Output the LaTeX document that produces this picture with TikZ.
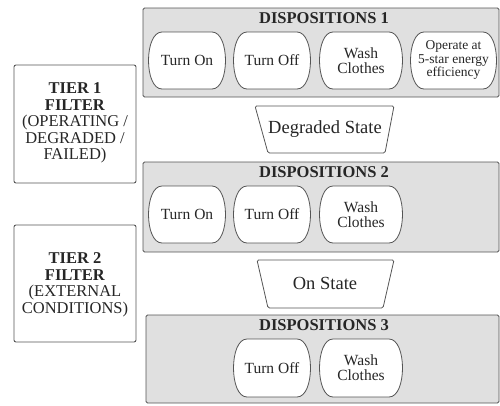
\documentclass[tikz,border=0pt]{standalone}
\usepackage{fontspec}
\setmainfont{Liberation Serif}
\usetikzlibrary{shapes.geometric}
\definecolor{panelfill}{HTML}{E0E0E0}
\definecolor{edge}{HTML}{555555}
\tikzset{
  panel/.style={draw=edge, fill=panelfill, line width=0.9pt, rounded corners=1.5pt},
  filterbox/.style={draw=edge, fill=white, line width=0.9pt, rounded corners=2pt},
  pill/.style={draw=edge, fill=white, line width=0.8pt},
  trap/.style={draw=edge, fill=white, line width=0.8pt, rounded corners=1.5pt},
  lbl/.style={font=\fontsize{15.5}{15}\selectfont, align=center, text=black!85},
  head/.style={font=\fontsize{16.5}{17}\selectfont\bfseries, text=black!85},
  tier/.style={font=\fontsize{16.5}{16.5}\selectfont, align=center, text=black!85},
}
% pill outline: \pillpath{x1}{y1}{x2}{y2}
\newcommand\pillpath[4]{%
  \draw[pill] (#1+15,#2) -- (#3-15,#2)
    .. controls (#3+3,#2) and (#3+3,#4) .. (#3-15,#4)
    -- (#1+15,#4)
    .. controls (#1-3,#4) and (#1-3,#2) .. (#1+15,#2) -- cycle;}
\begin{document}
\begin{tikzpicture}[x=1pt,y=-1pt]
\useasboundingbox (0,0) rectangle (500,405);
% panels
\draw[panel] (143,8) rectangle (499,97);
\draw[panel] (143,162) rectangle (499,252);
\draw[panel] (146,315) rectangle (499,403);
\node[head] (h1) at (324,18) {DISPOSITIONS 1};
\node[head] (h2) at (324,172) {DISPOSITIONS 2};
\node[head] (h3) at (324,325) {DISPOSITIONS 3};
% filter boxes
\draw[filterbox] (14,65) rectangle (136,183);
\node[tier] (t1) at (75,123) {\textbf{TIER 1}\\\textbf{FILTER}\\(OPERATING /\\DEGRADED /\\FAILED)};
\draw[filterbox] (14,225) rectangle (136,342);
\node[tier] (t2) at (75,285) {\textbf{TIER 2}\\\textbf{FILTER}\\(EXTERNAL\\CONDITIONS)};
% dispositions 1
\pillpath{147}{32}{227}{89}
\node[lbl] (a1) at (187,60.5) {Turn On};
\pillpath{232}{32}{312}{89}
\node[lbl] (a2) at (272,60.5) {Turn Off};
\pillpath{318}{32}{404}{89}
\node[lbl] (a3) at (361,60.5) {Wash\\Clothes};
\pillpath{409}{32}{498}{89}
\node[lbl, font=\fontsize{13.5}{13.5}\selectfont] (a4) at (453.5,60) {Operate at\\5-star energy\\efficiency};
% degraded state
\draw[trap] (255,106) -- (394,106) -- (385,153) -- (268,153) -- cycle;
\node[lbl, font=\fontsize{18.5}{19}\selectfont] (s1) at (325,129.5) {Degraded State};
% dispositions 2
\pillpath{147}{186}{227}{243}
\node[lbl] (b1) at (187,214.5) {Turn On};
\pillpath{232}{186}{312}{243}
\node[lbl] (b2) at (272,214.5) {Turn Off};
\pillpath{318}{186}{404}{243}
\node[lbl] (b3) at (361,214.5) {Wash\\Clothes};
% on state
\draw[trap] (257,260) -- (394,260) -- (383,308) -- (268,308) -- cycle;
\node[lbl, font=\fontsize{18.5}{19}\selectfont] (s2) at (325,283) {On State};
% dispositions 3
\pillpath{232}{339}{312}{397}
\node[lbl] (c2) at (272,368) {Turn Off};
\pillpath{318}{339}{404}{397}
\node[lbl] (c3) at (361,368) {Wash\\Clothes};
\end{tikzpicture}
\end{document}
